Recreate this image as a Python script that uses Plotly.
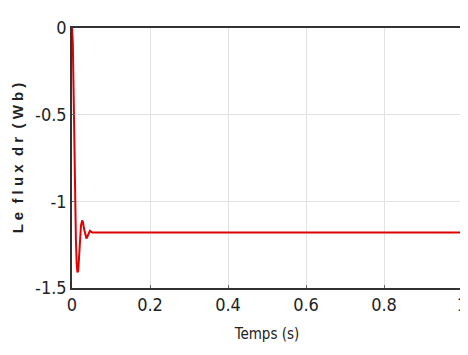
import plotly.graph_objects as go

t = [0, 0.002, 0.004, 0.006, 0.008, 0.010, 0.012, 0.014, 0.016, 0.018, 0.020, 0.023, 0.026, 0.028,
     0.031, 0.034, 0.037, 0.040, 0.043, 0.046, 0.049, 0.052, 0.056, 0.06, 0.07, 0.08, 0.1,
     0.2, 0.3, 0.4, 0.5, 0.6, 0.7, 0.8, 0.9, 1.0]
flux = [0, -0.08, -0.35, -0.7, -1.0, -1.22, -1.36, -1.41, -1.40, -1.33, -1.24, -1.14, -1.11, -1.12,
        -1.16, -1.2, -1.215, -1.2, -1.18, -1.17, -1.175, -1.18, -1.18, -1.18, -1.18, -1.18, -1.18,
        -1.18, -1.18, -1.18, -1.18, -1.18, -1.18, -1.18, -1.18, -1.18]

xticks = [0, 0.2, 0.4, 0.6, 0.8, 1]
xlabels = ["0", "0.2", "0.4", "0.6", "0.8", "1"]
yticks = [0, -0.5, -1, -1.5]
ylabels = ["0", "-0.5", "-1", "-1.5"]

fig = go.Figure()
fig.add_trace(go.Scatter(x=t, y=flux, mode="lines",
                         line=dict(color="#e00000", width=2), showlegend=False))

font = "DejaVu Sans Condensed, Liberation Sans Narrow, Arial Narrow, sans-serif"
fig.update_layout(
    width=468, height=355,
    margin=dict(l=62, r=9, t=20, b=75),
    paper_bgcolor="white", plot_bgcolor="white",
    font=dict(family=font, size=18, color="#222222"),
    xaxis=dict(range=[0, 1], tickvals=xticks, ticktext=xlabels,
               showgrid=True, gridcolor="#e2e2e2", gridwidth=1,
               showline=True, linecolor="#333333", linewidth=1.5, mirror=True,
               ticks="inside", ticklen=3, tickcolor="#666666",
               zeroline=False, ticklabeloverflow="allow",
               title=dict(text="Temps (s)", font=dict(size=15, family=font), standoff=14)),
    yaxis=dict(range=[-1.5, 0], tickvals=yticks, ticktext=ylabels,
               showgrid=True, gridcolor="#e2e2e2", gridwidth=1,
               showline=True, linecolor="#333333", linewidth=1.5, mirror=True,
               ticks="inside", ticklen=3, tickcolor="#666666",
               zeroline=False,
               title=dict(text="L e  f l u x  d r  ( W b )",
                          font=dict(size=15, weight=600, family="Liberation Sans, Arial, sans-serif", color="#222222"),
                          standoff=8)),
)
fig.write_html("out.html")
